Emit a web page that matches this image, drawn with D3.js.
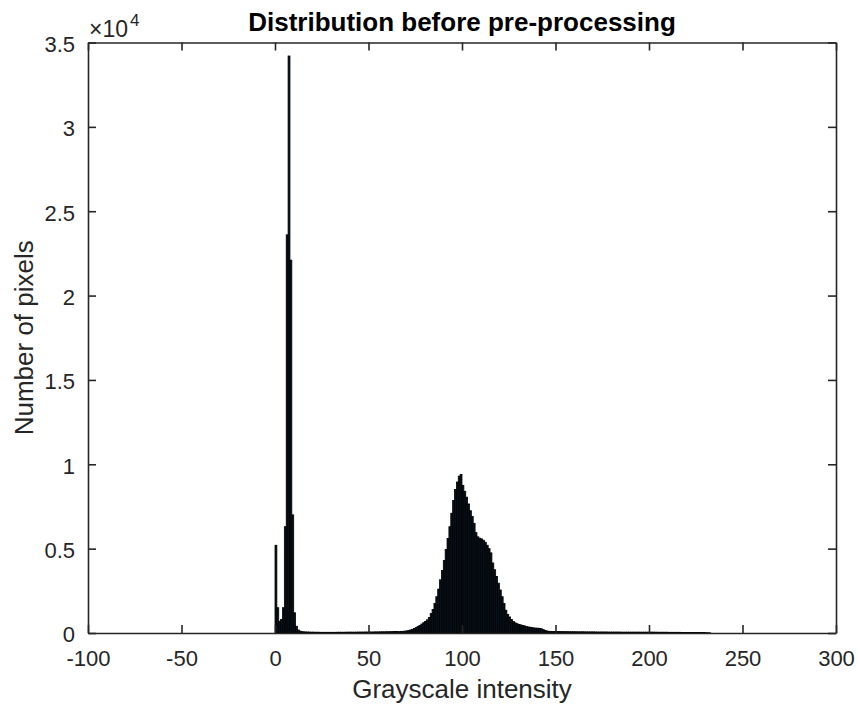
<!DOCTYPE html>
<html>
<head>
<meta charset="utf-8">
<script src="https://cdn.jsdelivr.net/npm/d3@7"></script>
<style>
  body { margin: 0; background: #fff; }
  text { font-family: Arial, "Liberation Sans", Helvetica, sans-serif; }
</style>
</head>
<body>
<div id="chart"></div>
<script>
// histogram counts, one per grayscale level starting at 0 (levels after the last entry are empty)
const pixelCounts = [
  5200, 1500, 700, 800, 1500, 6300, 23600, 34200, 22100, 7000, 1200, 400, 180,
  110, 80, 70, 60, 60, 55, 50, 50, 45, 45, 45, 40, 40, 40, 40, 40, 40,
  40, 40, 40, 45, 45, 45, 45, 45, 50, 50, 50, 50, 50, 50, 55, 55, 55, 55, 60, 60,
  60, 60, 60, 65, 65, 65, 70, 70, 70, 75, 75, 80, 80, 85, 90, 95,
  80, 90, 100, 110, 125, 150, 180, 220, 270, 320, 380, 450, 530, 610, 690, 780,
  920, 1150, 1400, 1750, 2150, 2600, 3150, 3700, 4300, 4950, 5600, 6300, 7100, 7850,
  8500, 8950, 9300, 9400,
  8750, 8400, 8050, 7650, 7250, 6900, 6500, 5950, 5700, 5620,
  5580, 5500, 5380, 5200, 5000, 4750, 4150, 3750, 3350, 2950,
  2550, 2150, 1750, 1350, 1100, 950, 800, 680, 600, 550,
  510, 480, 450, 420, 380, 360, 340, 320, 300, 290,
  285, 275, 250, 200, 150, 120, 100, 95, 90, 90,
  85, 85, 85, 80, 80, 80, 80, 75, 75, 75,
  75, 70, 70, 70, 70, 70, 65, 65, 65, 65,
  65, 60, 60, 60, 60, 60, 60, 60, 55, 55,
  55, 55, 55, 55, 55, 50, 50, 50, 50, 50,
  50, 50, 50, 50, 50, 50, 50, 50, 50, 50,
  50, 50, 50, 50, 45, 45, 45, 45, 45, 45,
  40, 40, 40, 40, 40, 40, 40, 35, 35, 35,
  35, 35, 35, 30, 30, 30, 30, 30, 25, 25,
  20, 15, 10
];

const xTicks = [-100, -50, 0, 50, 100, 150, 200, 250, 300];
const yTicks = [0, 5000, 10000, 15000, 20000, 25000, 30000, 35000];
const yTickLabels = ["0", "0.5", "1", "1.5", "2", "2.5", "3", "3.5"];

const titleText = "Distribution before pre-processing";
const xLabelText = "Grayscale intensity";
const yLabelText = "Number of pixels";

/////////////////////
// Dimensions
/////////////////////
const W = 858, H = 709;
const plot = { left: 88, right: 836, top: 42.5, bottom: 633 };
const axisColor = "#262626";

const svg = d3.select("#chart")
  .append("svg")
  .attr("width", W)
  .attr("height", H);

const x = d3.scaleLinear().domain([-100, 300]).range([plot.left, plot.right]);
const y = d3.scaleLinear().domain([0, 35000]).range([plot.bottom, plot.top]);

/////////////////////
// Bars
/////////////////////
const bins = pixelCounts.map((v, i) => ({ x0: i, x1: i + 1, count: v }));

svg.append("g")
  .selectAll("rect")
  .data(bins.filter(d => d.count > 0))
  .join("rect")
  .attr("x", d => x(d.x0))
  .attr("width", d => x(d.x1) - x(d.x0))
  .attr("y", d => y(d.count))
  .attr("height", d => y(0) - y(d.count))
  .attr("fill", "#06121d")
  .attr("stroke", "#000")
  .attr("stroke-width", 0.8);

/////////////////////
// Axes (MATLAB style: box, ticks pointing inwards)
/////////////////////
const tickLen = 8;

const xAxis = svg.append("g")
  .attr("transform", `translate(0,${plot.bottom})`)
  .call(d3.axisBottom(x).tickValues(xTicks).tickFormat(d => String(d))
    .tickSizeInner(-tickLen).tickSizeOuter(0).tickPadding(17));

const yAxis = svg.append("g")
  .attr("transform", `translate(${plot.left},0)`)
  .call(d3.axisLeft(y).tickValues(yTicks).tickFormat((d, i) => yTickLabels[i])
    .tickSizeInner(-tickLen).tickSizeOuter(0).tickPadding(13));

svg.append("g")
  .attr("transform", `translate(0,${plot.top})`)
  .call(d3.axisTop(x).tickValues(xTicks).tickSizeInner(-tickLen).tickSizeOuter(0).tickFormat(""));

svg.append("g")
  .attr("transform", `translate(${plot.right},0)`)
  .call(d3.axisRight(y).tickValues(yTicks).tickSizeInner(-tickLen).tickSizeOuter(0).tickFormat(""));

svg.selectAll(".domain").attr("stroke", axisColor).attr("stroke-width", 1.6);
svg.selectAll(".tick line").attr("stroke", axisColor).attr("stroke-width", 1.6);
svg.selectAll(".tick text")
  .attr("fill", axisColor)
  .style("font-size", "22px")
  .style("font-family", "Arial, 'Liberation Sans', sans-serif");

yAxis.selectAll(".tick text").attr("dy", "0.40em");

// exponent label
const expo = svg.append("text")
  .attr("x", 89)
  .attr("y", 37)
  .attr("fill", axisColor)
  .style("font-size", "23px");
expo.append("tspan").text("×10");
expo.append("tspan").attr("dy", -11).attr("dx", 2).style("font-size", "17px").text("4");

/////////////////////
// Titles
/////////////////////
svg.append("text")
  .attr("x", (plot.left + plot.right) / 2)
  .attr("y", 31)
  .attr("text-anchor", "middle")
  .attr("fill", "#000")
  .style("font-size", "26px")
  .style("font-weight", "bold")
  .text(titleText);

svg.append("text")
  .attr("x", (plot.left + plot.right) / 2)
  .attr("y", 698)
  .attr("text-anchor", "middle")
  .attr("fill", axisColor)
  .style("font-size", "26px")
  .text(xLabelText);

svg.append("text")
  .attr("transform", `translate(33,${(plot.top + plot.bottom) / 2}) rotate(-90)`)
  .attr("text-anchor", "middle")
  .attr("fill", axisColor)
  .style("font-size", "26px")
  .text(yLabelText);
</script>
</body>
</html>
